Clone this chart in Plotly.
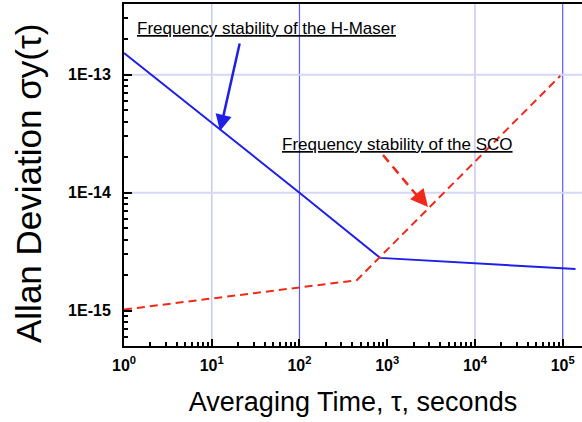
import plotly.graph_objects as go
import numpy as np

# ---- data ----
maser_tau = [1, 100, 830, 1.4e5]
maser_adev = [1.53e-13, 1.0e-14, 2.8e-15, 2.25e-15]

sco_tau = [1, 450, 9.4e4]
sco_adev = [1.02e-15, 1.81e-15, 9.8e-14]

x_tickvals = [1, 10, 100, 1000, 1e4, 1e5]
x_ticktext = ["10<sup>0</sup>", "10<sup>1</sup>", "10<sup>2</sup>", "10<sup>3</sup>",
              "10<sup>4</sup>", "10<sup>5</sup>"]
y_tickvals = [1e-15, 1e-14, 1e-13]
y_ticktext = ["1E-15", "1E-14", "1E-13"]

# grid lines shown in the reference
x_grid_light = [10, 1e4]
x_grid_dark = [100, 1e5]
y_grid = [1e-14, 1e-13]

x_range_log = [0, 5.22]
y_range_log = [-15.30, -12.40]

FONT = "Arial, Liberation Sans, sans-serif"

fig = go.Figure()

ylo, yhi = 10 ** y_range_log[0], 10 ** y_range_log[1]
xlo, xhi = 10 ** x_range_log[0], 10 ** x_range_log[1]
for v in x_grid_light:
    fig.add_trace(go.Scatter(x=[v, v], y=[ylo, yhi], mode="lines",
                             line=dict(color="#c8c8f2", width=1.5), hoverinfo="skip", showlegend=False))
for v in x_grid_dark:
    fig.add_trace(go.Scatter(x=[v, v], y=[ylo, yhi], mode="lines",
                             line=dict(color="#5c5cff", width=1.2), hoverinfo="skip", showlegend=False))
for v in y_grid:
    fig.add_trace(go.Scatter(x=[xlo, xhi], y=[v, v], mode="lines",
                             line=dict(color="#d6d6f6", width=2), hoverinfo="skip", showlegend=False))

fig.add_trace(go.Scatter(x=maser_tau, y=maser_adev, mode="lines",
                         line=dict(color="#1f1fe6", width=2), name="H-Maser", showlegend=False))
fig.add_trace(go.Scatter(x=sco_tau, y=sco_adev, mode="lines",
                         line=dict(color="#f02a1a", width=2, dash="8px,5px"), name="SCO", showlegend=False))

minor_x = [m * 10 ** d for d in range(0, 6) for m in range(2, 10)]
minor_y = [m * 10.0 ** d for d in range(-16, -12) for m in range(2, 10)]

fig.update_xaxes(type="log", range=x_range_log, tickmode="array", tickvals=x_tickvals,
                 ticktext=["<b>%s</b>" % t for t in x_ticktext], automargin=False,
                 ticks="inside", ticklen=7, tickwidth=1.5, tickcolor="black",
                 ticklabelstandoff=4,
                 minor=dict(tickmode="array", tickvals=minor_x, ticks="inside", ticklen=4,
                            tickcolor="black", showgrid=False),
                 showgrid=False, zeroline=False, showline=True, linecolor="black", linewidth=2,
                 mirror=True,
                 tickfont=dict(family=FONT, size=16, color="black"),
                 title=dict(text="Averaging Time, τ, seconds",
                            font=dict(family=FONT, size=27, color="black"), standoff=19))
fig.update_yaxes(type="log", range=y_range_log, tickmode="array", tickvals=y_tickvals,
                 ticktext=["<b>%s</b>" % t for t in y_ticktext], automargin=False,
                 ticks="inside", ticklen=8, tickwidth=1.5, tickcolor="black",
                 ticklabelstandoff=8,
                 minor=dict(tickmode="array", tickvals=minor_y, ticks="inside", ticklen=4,
                            tickcolor="black", showgrid=False),
                 showgrid=False, zeroline=False, showline=True, linecolor="black", linewidth=2,
                 tickfont=dict(family=FONT, size=16, color="black"))

def px(xp, yp):
    return (xp - 124) / 458.0, (346 - yp) / 342.0

# y-axis title as rotated annotation
tx, ty = px(28, 184)
fig.add_annotation(x=tx, y=ty, xref="paper", yref="paper", xanchor="center", yanchor="middle",
                   text="Allan Deviation σy(τ)", textangle=-90, showarrow=False,
                   font=dict(family=FONT, size=35, color="black"))

# text labels
tx, ty = px(135, 29)
fig.add_annotation(x=tx, y=ty, xref="paper", yref="paper", xanchor="left", yanchor="middle",
                   text="<u>Frequency stability of the H-Maser</u>", showarrow=False,
                   font=dict(family=FONT, size=17, color="black"))
tx, ty = px(280, 145)
fig.add_annotation(x=tx, y=ty, xref="paper", yref="paper", xanchor="left", yanchor="middle",
                   text="<u>Frequency stability of the SCO</u>", showarrow=False,
                   font=dict(family=FONT, size=17, color="black"))

# H-Maser arrow
hx, hy = px(220, 131)
fig.add_annotation(x=hx, y=hy, xref="paper", yref="paper", ax=20, ay=-89, text="",
                   showarrow=True, arrowhead=2, arrowsize=1.3, arrowwidth=2.5, arrowcolor="#1f1fe6")

# SCO dashed arrow
x0, y0 = px(383, 155)
x1, y1 = px(419, 198)
fig.add_shape(type="line", xref="paper", yref="paper", x0=x0, y0=y0, x1=x1, y1=y1,
              line=dict(color="#f02a1a", width=2.5, dash="9px,6px"))
hx, hy = px(428, 207)
fig.add_annotation(x=hx, y=hy, xref="paper", yref="paper", ax=-10, ay=-12, text="",
                   showarrow=True, arrowhead=2, arrowsize=1.4, arrowwidth=2.5, arrowcolor="#f02a1a")

fig.update_layout(width=582, height=422, margin=dict(l=124, r=0, t=4, b=76),
                  plot_bgcolor="white", paper_bgcolor="white", showlegend=False)

fig.write_html("out.html", config={"displayModeBar": False},
               post_script="document.body.style.margin='0px';")
